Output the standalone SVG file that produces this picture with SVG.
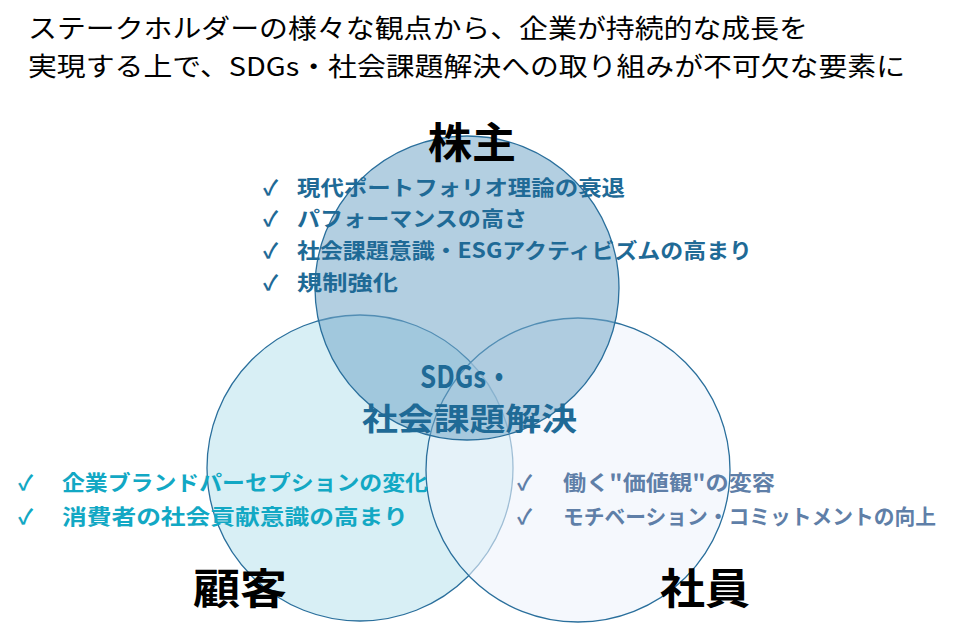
<svg xmlns="http://www.w3.org/2000/svg" width="953" height="638" viewBox="0 0 953 638">
<style>
text{font-family:"Noto Sans CJK JP","Noto Sans",sans-serif}
.t{font-size:26px;fill:#000}
.h{font-size:42px;font-weight:bold;fill:#000}
.b{font-size:21px;font-weight:bold}
.top{fill:#1f6a96}.lt{fill:#12a8c4}.rt{fill:#5f7fa8}
.c{font-size:31px;font-weight:bold;fill:#1f6a96}
circle{stroke:#2a6f9c;stroke-width:1.3}
</style>
<rect width="953" height="638" fill="#fff"/>
<g id="title">
<text class="t" x="28" y="38" textLength="780" lengthAdjust="spacingAndGlyphs">ステークホルダーの様々な観点から、企業が持続的な成長を</text>
<text class="t" x="28" y="76" textLength="877" lengthAdjust="spacingAndGlyphs">実現する上で、SDGs・社会課題解決への取り組みが不可欠な要素に</text>
</g>
<g id="customer">
<circle cx="360" cy="468" r="153" fill="#d8eff5"/>
</g>
<g id="employee">
<circle cx="578" cy="470" r="152" fill="#eef3fc" fill-opacity="0.6"/>
</g>
<g id="shareholder">
<circle cx="467" cy="288" r="152" fill="#74a7c8" fill-opacity="0.55"/>
</g>
<g id="labels">
<text class="h" x="428" y="158" textLength="88" lengthAdjust="spacingAndGlyphs">株主</text>
<text class="h" x="193" y="604" textLength="94" lengthAdjust="spacingAndGlyphs">顧客</text>
<text class="h" x="660" y="604" textLength="90" lengthAdjust="spacingAndGlyphs">社員</text>
<g class="b top">
<text x="263" y="195">✓</text><text x="297" y="195" textLength="328" lengthAdjust="spacingAndGlyphs">現代ポートフォリオ理論の衰退</text>
<text x="263" y="226">✓</text><text x="297" y="226" textLength="230" lengthAdjust="spacingAndGlyphs">パフォーマンスの高さ</text>
<text x="263" y="258">✓</text><text x="297" y="258" textLength="455" lengthAdjust="spacingAndGlyphs">社会課題意識・ESGアクティビズムの高まり</text>
<text x="263" y="290">✓</text><text x="297" y="290" textLength="101" lengthAdjust="spacingAndGlyphs">規制強化</text>
</g>
<g class="b lt">
<text x="18" y="490">✓</text><text x="62" y="490" textLength="366" lengthAdjust="spacingAndGlyphs">企業ブランドパーセプションの変化</text>
<text x="18" y="524">✓</text><text x="62" y="524" textLength="346" lengthAdjust="spacingAndGlyphs">消費者の社会貢献意識の高まり</text>
</g>
<g class="b rt">
<text x="517" y="490">✓</text><text x="563" y="490" textLength="212" lengthAdjust="spacingAndGlyphs">働く"価値観"の変容</text>
<text x="517" y="524">✓</text><text x="563" y="524" textLength="373" lengthAdjust="spacingAndGlyphs">モチベーション・コミットメントの向上</text>
</g>
<text class="c" x="420" y="388" textLength="92" lengthAdjust="spacingAndGlyphs">SDGs・</text>
<text class="c" x="362" y="430" textLength="215" lengthAdjust="spacingAndGlyphs">社会課題解決</text>
</g>
<g id="connectors"/>
</svg>
